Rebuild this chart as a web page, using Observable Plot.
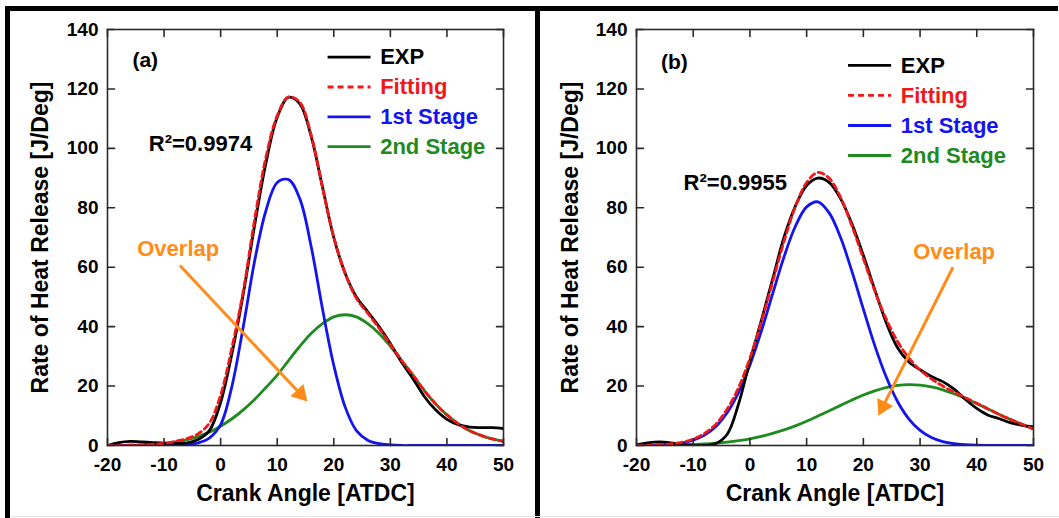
<!DOCTYPE html>
<html>
<head>
<meta charset="utf-8">
<script src="https://cdn.jsdelivr.net/npm/d3@7"></script>
<script src="https://cdn.jsdelivr.net/npm/@observablehq/plot@0.6"></script>
<style>
  html, body { margin: 0; padding: 0; background: #fff; }
  #wrap { position: relative; width: 1059px; height: 518px; overflow: hidden; background: #fff; }
  .panel { position: absolute; top: 0; }
  .bar { position: absolute; background: #000; z-index: 5; }
  .hair { position: absolute; background: #e2e2e2; z-index: 5; }
</style>
</head>
<body>
<div id="wrap">
  <div class="panel" id="pa" style="left:0px"></div>
  <div class="panel" id="pb" style="left:530px"></div>
  <div class="bar" style="left:5px; top:6px; width:1053px; height:5px"></div>
  <div class="bar" style="left:5px; top:6px; width:5px; height:512px"></div>
  <div class="bar" style="left:535px; top:6px; width:5px; height:512px"></div>
  <div class="hair" style="left:10px; top:516px; width:1049px; height:1px"></div>
</div>
<script>
// ---------- data ----------
const crankAngle = [-20,-18,-16,-14,-12,-10,-8,-6,-4,-2,0,2,4,6,8,10,12,14,16,18,20,22,24,26,28,30,32,34,36,38,40,42,44,46,48,50];
const xTicks = [-20, -10, 0, 10, 20, 30, 40, 50];
const yTicks = [0, 20, 40, 60, 80, 100, 120, 140];
const seriesNames = ["EXP", "Fitting", "1st Stage", "2nd Stage"];

// panel (a)
const expA   = [0,1.0,1.4,1.2,1.0,0.8,0.7,0.8,2,5,14.5,31,51,74,95,110.5,117.2,115,104,87,70,58,50,45,40,34.3,28,22.5,16.5,12,8.8,7,6.2,6,6,5.7];
const fitA   = [0,0.05,0.1,0.2,0.4,0.7,1.4,2.3,3.9,7.5,17,33,52,76,97,111,117.3,115.5,104.5,87,70,58,49.5,44.5,39.5,34,28.6,23.7,18.5,14,10.3,7.3,5,3.4,2.2,1.4];
const stage1A= [0,0,0,0,0,0,0.2,0.4,0.9,2.5,7,20,40,62,79,88.5,89.5,83,67,46,27,13,5,1.8,0.6,0.2,0,0,0,0,0,0,0,0,0,0];
const stage2A= [0.02,0.05,0.1,0.2,0.4,0.7,1.2,1.9,3,4.5,6.5,9,12,15.5,19.5,23.7,28.6,33.4,37.7,41,43.3,44,43.3,41,37.7,33.4,28.6,23.7,18.5,14,10.3,7.3,5,3.4,2.2,1.4];

// panel (b)
const expB   = [0.3,0.9,1.2,0.9,0.3,0,0,0.7,3.8,14,28.5,42,56,70,80.5,87.5,90,88.5,83,74.5,64,52.5,41.5,33,28.2,25.5,23.2,21.5,19,15.5,12.5,10.2,9,7.6,6.8,6.3];
const fitB   = [0.05,0.11,0.25,0.53,1.08,2.17,4.05,7.2,12.3,19.5,29.4,41.5,55,68.6,80.3,88.5,91.9,89.9,83.4,73.8,62.9,52.1,42.7,35.1,29.5,25.4,22.4,20,18,16.1,14.2,12.3,10.4,8.7,7.1,5.6];
const stage1B= [0.02,0.06,0.16,0.38,0.84,1.8,3.5,6.4,11.1,17.9,27.1,38.4,51,63.4,73.7,80.3,82,78.2,69.9,58.5,45.9,33.7,23.2,14.9,9,5.1,2.7,1.3,0.6,0.27,0.1,0.04,0,0,0,0];
const stage2B= [0.03,0.05,0.09,0.15,0.24,0.37,0.55,0.81,1.17,1.65,2.27,3.07,4.06,5.24,6.62,8.18,9.9,11.7,13.5,15.3,17,18.4,19.5,20.2,20.5,20.3,19.7,18.75,17.4,15.8,14.1,12.3,10.4,8.7,7.1,5.6];

// ---------- styles ----------
const FONT = "'Liberation Sans', Arial, Helvetica, sans-serif";
const colors = {"EXP": "#000000", "Fitting": "#f01818", "1st Stage": "#1414ee", "2nd Stage": "#1f8a1f"};
const orange = "#ff8c1a";
const axisColor = "#2a2a2a";
const W = 529, H = 518, MT = 29, MB = 73;
const X_DOMAIN = [-20, 50], Y_DOMAIN = [0, 140];

const tickShape = {draw(ctx, l) { ctx.moveTo(0, 0); ctx.lineTo(0, -l); }};

function toRows(exp, fit, s1, s2) {
  return crankAngle.map((x, i) => ({x, exp: exp[i], fit: fit[i], s1: s1[i], s2: s2[i]}));
}

// arrow with a filled head: shaft (link) + triangle (dot)
function arrowMarks(a, ml, mr) {
  const [x1, y1, x2, y2] = a;
  const kx = (W - ml - mr) / (X_DOMAIN[1] - X_DOMAIN[0]);
  const ky = (H - MT - MB) / (Y_DOMAIN[1] - Y_DOMAIN[0]);
  const dxp = (x2 - x1) * kx, dyp = (y2 - y1) * ky;
  const len = Math.hypot(dxp, dyp);
  const ux = dxp / len, uy = dyp / len;
  const r = 8.5, back = 2 * r * Math.sqrt(Math.PI / (3 * Math.sqrt(3)));
  const cx = x2 - ux * back / kx, cy = y2 - uy * back / ky;
  const rot = Math.atan2(ux, uy) * 180 / Math.PI;
  return [
    Plot.link([0], {x1, y1, x2: cx, y2: cy, stroke: orange, strokeWidth: 3}),
    Plot.dot([0], {x: cx, y: cy, symbol: "triangle2", r, rotate: rot, fill: orange, stroke: "none"})
  ];
}

function panel(cfg) {
  const rows = toRows(cfg.exp, cfg.fit, cfg.s1, cfg.s2);
  const legend = seriesNames.map((name, i) => ({name, i}));
  const ly = i => cfg.legend.y0 - i * cfg.legend.step;
  return Plot.plot({
    width: W, height: H,
    marginTop: MT, marginBottom: MB, marginLeft: cfg.marginLeft, marginRight: cfg.marginRight,
    style: {fontFamily: FONT, fontWeight: "bold", fontSize: "19px", color: "#000", background: "transparent", overflow: "visible"},
    x: {domain: X_DOMAIN},
    y: {domain: Y_DOMAIN},
    marks: [
      Plot.line(rows, {x: "x", y: "s2", stroke: colors["2nd Stage"], strokeWidth: 2.8, curve: "catmull-rom", clip: true}),
      Plot.line(rows, {x: "x", y: "s1", stroke: colors["1st Stage"], strokeWidth: 2.8, curve: "catmull-rom", clip: true}),
      Plot.line(rows, {x: "x", y: "exp", stroke: colors["EXP"], strokeWidth: 2.8, curve: "catmull-rom", clip: true}),
      Plot.line(rows, {x: "x", y: "fit", stroke: colors["Fitting"], strokeWidth: 2.8, strokeDasharray: "6,4", curve: "catmull-rom", clip: true}),
      Plot.frame({stroke: axisColor, strokeWidth: 1.6}),
      // inward ticks on all four sides
      Plot.vector(xTicks, {x: d => d, frameAnchor: "bottom", rotate: 0, length: 7, shape: tickShape, anchor: "start", stroke: axisColor, strokeWidth: 1.6}),
      Plot.vector(xTicks, {x: d => d, frameAnchor: "top", rotate: 180, length: 7, shape: tickShape, anchor: "start", stroke: axisColor, strokeWidth: 1.6}),
      Plot.vector(yTicks, {y: d => d, frameAnchor: "left", rotate: 90, length: 7, shape: tickShape, anchor: "start", stroke: axisColor, strokeWidth: 1.6}),
      Plot.vector(yTicks, {y: d => d, frameAnchor: "right", rotate: -90, length: 7, shape: tickShape, anchor: "start", stroke: axisColor, strokeWidth: 1.6}),
      Plot.axisX({ticks: xTicks, tickSize: 0, tickPadding: 12, tickFormat: d => String(d), label: null, fontSize: 19, fontWeight: "bold", fill: "#000"}),
      Plot.axisY({ticks: yTicks, tickSize: 0, tickPadding: 9, tickFormat: d => String(d), label: null, fontSize: 19, fontWeight: "bold", fill: "#000"}),
      Plot.text(["Crank Angle [ATDC]"], {frameAnchor: "bottom", dy: 48, textAnchor: "middle", lineAnchor: "middle", fontSize: 23, fontWeight: "bold", fill: "#000"}),
      Plot.text(["Rate of Heat Release [J/Deg]"], {frameAnchor: "left", dx: cfg.ytitleDx, rotate: -90, textAnchor: "middle", lineAnchor: "middle", fontSize: 23, fontWeight: "bold", fill: "#000"}),
      // legend
      Plot.link(legend.filter(d => d.name !== "Fitting"), {x1: cfg.legend.x1, x2: cfg.legend.x2, y1: d => ly(d.i), y2: d => ly(d.i), stroke: d => colors[d.name], strokeWidth: 2.8}),
      Plot.link(legend.filter(d => d.name === "Fitting"), {x1: cfg.legend.x1, x2: cfg.legend.x2, y1: d => ly(d.i), y2: d => ly(d.i), stroke: d => colors[d.name], strokeWidth: 2.8, strokeDasharray: "6,4"}),
      Plot.text(legend, {x: cfg.legend.tx, y: d => ly(d.i), text: "name", fill: d => colors[d.name], textAnchor: "start", fontSize: 22, fontWeight: "bold"}),
      // panel label and R²
      Plot.text([cfg.tag], {x: cfg.tagPos[0], y: cfg.tagPos[1], textAnchor: "start", fontSize: 21, fontWeight: "bold", fill: "#000"}),
      Plot.text([cfg.r2], {x: cfg.r2Pos[0], y: cfg.r2Pos[1], textAnchor: "start", fontSize: 22, fontWeight: "bold", fill: "#000"}),
      // overlap annotation
      Plot.text(["Overlap"], {x: cfg.ovText[0], y: cfg.ovText[1], fontSize: 22, fontWeight: "bold", fill: orange}),
      ...arrowMarks(cfg.ovArrow, cfg.marginLeft, cfg.marginRight)
    ]
  });
}

document.getElementById("pa").appendChild(panel({
  exp: expA, fit: fitA, s1: stage1A, s2: stage2A,
  marginLeft: 107, marginRight: 26, ytitleDx: -67,
  legend: {x1: 18.9, x2: 26.5, tx: 28.2, y0: 130.7, step: 10.05},
  tag: "(a)", tagPos: [-15.6, 129.6],
  r2: "R²=0.9974", r2Pos: [-12.7, 101.6],
  ovText: [-7.5, 66], ovArrow: [-7.2, 60.6, 15.7, 14.1]
}));
document.getElementById("pb").appendChild(panel({
  exp: expB, fit: fitB, s1: stage1B, s2: stage2B,
  marginLeft: 106, marginRight: 26, ytitleDx: -66,
  legend: {x1: 17.3, x2: 24.9, tx: 26.6, y0: 127.9, step: 10.1},
  tag: "(b)", tagPos: [-15.7, 129],
  r2: "R²=0.9955", r2Pos: [-11.7, 88.2],
  ovText: [36, 65], ovArrow: [35.8, 60, 22.4, 9.1]
}));
</script>
</body>
</html>
